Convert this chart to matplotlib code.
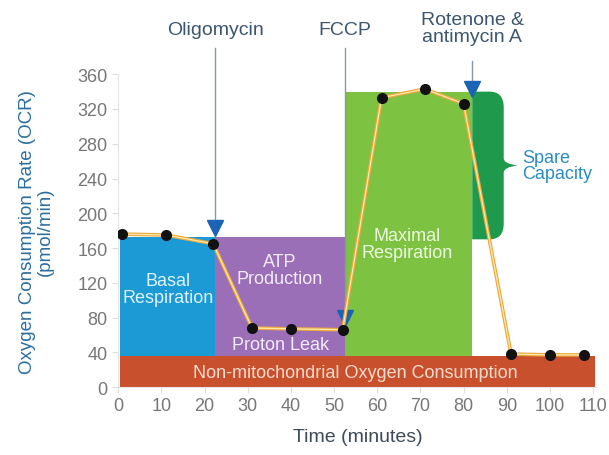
import numpy as np
import matplotlib.pyplot as plt
from matplotlib.patches import Rectangle, PathPatch
from matplotlib.path import Path

plt.rcParams['font.family'] = ['Liberation Sans', 'DejaVu Sans']

# OCR measurements
time = [1, 11, 22, 31, 40, 52, 61, 71, 80, 91, 100, 108]
ocr = [176, 175, 165, 68, 67, 66, 333, 343, 326, 38, 37, 37]

# injection times and labels
inj_time = [22.5, 52.5, 82]
inj_tip = [178, 75, 338]
inj_top = [390, 390, 375]
inj_label = ['Oligomycin', 'FCCP', 'Rotenone &\nantimycin A']

# levels used for the shaded regions
basal = 173
leak = 67
maximal = 340
non_mito = 36
t_end = 110.4

fig = plt.figure(figsize=(6.09, 4.56), dpi=100)
ax = fig.add_axes([0.194, 0.149, 0.787, 0.686])

blue = '#1b9ad6'
purple = '#9a6fb8'
lgreen = '#7ec242'
dgreen = '#1f9a4c'
red = '#c9502c'

ax.add_patch(Rectangle((0.5, non_mito), inj_time[0] - 0.5, basal - non_mito, color=blue, lw=0))
ax.add_patch(Rectangle((inj_time[0], non_mito), inj_time[1] - inj_time[0], basal - non_mito, color=purple, lw=0))
ax.add_patch(Rectangle((inj_time[1], non_mito), inj_time[2] - inj_time[1], maximal - non_mito, color=lgreen, lw=0))
ax.add_patch(Rectangle((0.5, 0), t_end - 0.5, non_mito, color=red, lw=0, clip_on=False))

# spare capacity brace
x0 = inj_time[2]
top, bot = maximal, basal - 3
mid = (top + bot) / 2
verts = [(x0, top), (86, top), (89.3, top), (89.3, top - 18),
         (89.3, mid + 8), (89.3, mid + 2), (92.5, mid),
         (89.3, mid - 2), (89.3, mid - 8),
         (89.3, bot + 18), (89.3, bot), (86, bot), (x0, bot), (x0, top)]
codes = [Path.MOVETO, Path.LINETO, Path.CURVE3, Path.CURVE3,
         Path.LINETO, Path.CURVE3, Path.CURVE3,
         Path.CURVE3, Path.CURVE3,
         Path.LINETO, Path.CURVE3, Path.CURVE3, Path.LINETO, Path.CLOSEPOLY]
ax.add_patch(PathPatch(Path(verts, codes), facecolor=dgreen, lw=0))

# injection arrows
for x, tip, t, lab in zip(inj_time, inj_tip, inj_top, inj_label):
    ax.plot([x, x], [t, tip + 8], color='#8899aa', lw=1, clip_on=False, zorder=4)
    ax.plot(x, tip + 5, marker='v', color='#1b63b5', markersize=11, clip_on=False, zorder=5)
    ax.text(x, 402 if '\n' not in lab else 394, lab, ha='center', va='bottom',
            fontsize=14, color='#3d5670', linespacing=0.95)

# OCR trace
ax.plot(time, ocr, color='#eaa93e', lw=2.6, zorder=6)
ax.plot(time, ocr, color='#fbe9b0', lw=0.9, zorder=6)
ax.plot(time, ocr, 'o', color='#111111', markersize=7, zorder=7)

# region labels
ax.text(11.5, 113, 'Basal\nRespiration', ha='center', va='center', fontsize=13, color='#dff3fb', linespacing=1.0)
ax.text(37.5, 135, 'ATP\nProduction', ha='center', va='center', fontsize=13, color='#f3ebf8', linespacing=1.0)
ax.text(37.5, 49, 'Proton Leak', ha='center', va='center', fontsize=13, color='#f3ebf8')
ax.text(67, 165, 'Maximal\nRespiration', ha='center', va='center', fontsize=13, color='#eef8e0', linespacing=1.0)
ax.text(55, 17, 'Non-mitochondrial Oxygen Consumption', ha='center', va='center', fontsize=13, color='#f6dccf')
ax.text(93.5, 255, 'Spare\nCapacity', ha='left', va='center', fontsize=13, color='#2a8cc0', linespacing=0.95)

ax.set_xlim(0, 111)
ax.set_ylim(0, 360)
ax.set_xticks(range(0, 111, 10))
ax.set_yticks(range(0, 361, 40))
ax.tick_params(colors='#dddddd', labelcolor='#777777', labelsize=13, length=4)
for s in ['top', 'right']:
    ax.spines[s].set_visible(False)
for s in ['left', 'bottom']:
    ax.spines[s].set_color('#e4e4e4')

ax.set_xlabel('Time (minutes)', fontsize=14, color='#3d4a58', labelpad=10)
ax.set_ylabel('Oxygen Consumption Rate (OCR)\n(pmol/min)', fontsize=13.5, color='#2a6e9e', linespacing=1.0)
ax.yaxis.set_label_coords(-0.135, 0.5)

fig.savefig('out.png', dpi=100)
